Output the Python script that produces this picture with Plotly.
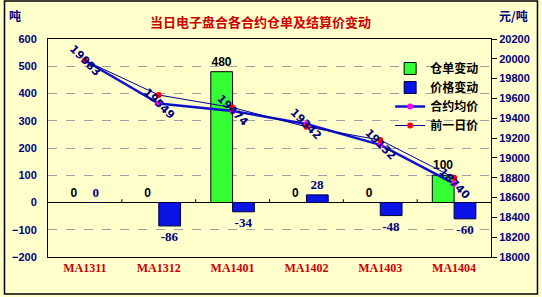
import plotly.graph_objects as go

categories = ["MA1311", "MA1312", "MA1401", "MA1402", "MA1403", "MA1404"]
warrant_change = [0, 0, 480, 0, 0, 100]          # 仓单变动 (吨)
price_change = [0, -86, -34, 28, -48, -60]        # 价格变动 (元/吨)
avg_price = [19983, 19549, 19474, 19342, 19132, 18740]   # 合约均价
prev_price = [19983, 19635, 19508, 19314, 19180, 18800]  # 前一日价

title_text = "当日电子盘合各合约仓单及结算价变动"
left_unit = "吨"
right_unit = "元/吨"

BG = "#FFFFCC"
NAVY = "#000080"
W, H = 542, 297
L, R, T, B = 45, 49, 39, 40
PW, PH = W - L - R, H - T - B


def px_x(px):
    return (px - L) / PW


def px_y(py):
    return 1 - (py - T) / PH


fig = go.Figure()
fig.add_trace(go.Bar(
    x=categories, y=warrant_change, name="仓单变动",
    marker=dict(color="#33FF33", line=dict(color="#000000", width=1)),
    text=[str(v) for v in warrant_change], textposition="outside",
    textfont=dict(family="Liberation Sans", size=12, color="#000000", weight="bold"),
    cliponaxis=False,
))
fig.add_trace(go.Bar(
    x=categories, y=price_change, name="价格变动",
    marker=dict(color="#0A14E6", line=dict(color="#000040", width=1)),
    text=[str(v) for v in price_change], textposition="outside",
    textfont=dict(family="Liberation Serif", size=13, color=NAVY, weight="bold"),
    cliponaxis=False,
))
fig.add_trace(go.Scatter(
    x=categories, y=avg_price, name="合约均价", yaxis="y2", mode="lines+markers",
    line=dict(color="#1010D0", width=2.5),
    marker=dict(color="#FF00FF", size=6, symbol="circle"),
))
fig.add_trace(go.Scatter(
    x=categories, y=prev_price, name="前一日价", yaxis="y2", mode="lines+markers",
    line=dict(color="#000099", width=1),
    marker=dict(color="#FF0000", size=6, symbol="circle"),
))

annotations = []
for c, v in zip(categories, avg_price):
    annotations.append(dict(
        x=c, y=v, xref="x", yref="y2", text=str(v), showarrow=False,
        textangle=45, font=dict(family="DejaVu Sans", size=11, color=NAVY, weight="bold"),
    ))
annotations.append(dict(
    x=px_x(260), y=px_y(22), xref="paper", yref="paper", text=title_text, showarrow=False,
    yanchor="middle", xanchor="center",
    font=dict(family="Noto Sans CJK SC", size=13, color="#CC0000", weight="bold"),
))
annotations.append(dict(
    x=px_x(12), y=px_y(15), xref="paper", yref="paper", text=left_unit,
    showarrow=False, xanchor="center", yanchor="middle",
    font=dict(family="Noto Sans CJK SC", size=12, color=NAVY, weight="bold"),
))
annotations.append(dict(
    x=px_x(516), y=px_y(15), xref="paper", yref="paper", text=right_unit,
    showarrow=False, xanchor="center", yanchor="middle",
    font=dict(family="Noto Sans CJK SC", size=12, color=NAVY, weight="bold"),
))

shapes = [dict(
    type="rect", xref="paper", yref="paper",
    x0=px_x(1), x1=px_x(540), y0=px_y(294), y1=px_y(1),
    line=dict(color="#000000", width=1.5), fillcolor="rgba(0,0,0,0)", layer="below",
)]
for i in range(len(categories) - 1):
    shapes.append(dict(type="line", xref="x", yref="y", x0=i + 0.5, x1=i + 0.5,
                       y0=0, y1=12, line=dict(color="#000000", width=1)))

fig.update_layout(
    width=W, height=H, margin=dict(l=L, r=R, t=T, b=B),
    paper_bgcolor=BG, plot_bgcolor=BG,
    barmode="group", bargap=0.41, bargroupgap=0,
    showlegend=True,
    legend=dict(x=px_x(391), y=px_y(54), xanchor="left", yanchor="top",
                bgcolor="rgba(0,0,0,0)",
                font=dict(family="Noto Sans CJK SC", size=12, color="#000000", weight="bold"),
                tracegroupgap=0, itemwidth=30),
    xaxis=dict(showline=True, mirror=True, linecolor="#000000", linewidth=1,
               ticks="", showgrid=False,
               tickfont=dict(family="Liberation Serif", size=12, color="#CC0000", weight="bold")),
    yaxis=dict(range=[-200, 600], dtick=100, showline=True, linecolor="#000000", linewidth=1,
               showgrid=True, gridcolor="#A0A0A0", griddash="dash", gridwidth=1,
               zeroline=True, zerolinecolor="#000000", zerolinewidth=1,
               ticks="", ticklabelstandoff=8,
               tickfont=dict(family="Liberation Sans", size=11, color=NAVY, weight="bold")),
    yaxis2=dict(range=[18000, 20200], dtick=200, tickformat="d", overlaying="y", side="right",
                showline=True, linecolor="#000000", linewidth=1, showgrid=False, zeroline=False,
                ticks="outside", ticklen=5, tickcolor="#000000",
                tickfont=dict(family="Liberation Sans", size=11, color=NAVY, weight="bold")),
    annotations=annotations, shapes=shapes,
)

fig.write_html("out.html")
